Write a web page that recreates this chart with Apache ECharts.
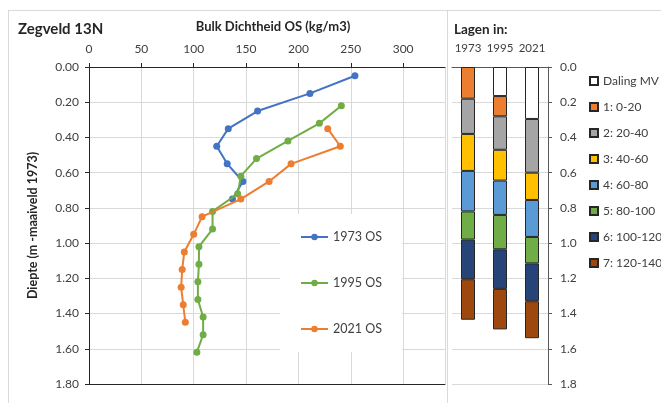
<!DOCTYPE html>
<html>
<head>
<meta charset="utf-8">
<script src="https://cdn.jsdelivr.net/npm/echarts@6/dist/echarts.min.js"></script>
<style>
html,body{margin:0;padding:0;background:#fff;}
#c{width:661px;height:403px;}
</style>
</head>
<body>
<div id="c"></div>
<script>
// ---- Data: left chart (bulk density of organic matter vs depth) ----
const depth1973 = [0.05, 0.15, 0.25, 0.35, 0.45, 0.55, 0.65, 0.75];
const os1973 = [254, 211, 161, 133, 122, 132, 147, 137];
const depth1995 = [0.22, 0.32, 0.42, 0.52, 0.62, 0.72, 0.82, 0.92, 1.02, 1.12, 1.22, 1.32, 1.42, 1.52, 1.62];
const os1995 = [241, 220, 190, 160, 145, 142, 118, 118, 105, 105, 104, 104, 109, 109, 103];
const depth2021 = [0.35, 0.45, 0.55, 0.65, 0.75, 0.85, 0.95, 1.05, 1.15, 1.25, 1.35, 1.45];
const os2021 = [228, 240, 193, 172, 145, 108, 100, 91, 89, 88, 90, 92];
const lineNames = ['1973 OS', '1995 OS', '2021 OS'];
const densityTicks = [0, 50, 100, 150, 200, 250, 300];

// ---- Data: right chart (layer thickness per year, m) ----
const years = ['1973', '1995', '2021'];
const layerNames = ['Daling MV', '1: 0-20', '2: 20-40', '3: 40-60', '4: 60-80', '5: 80-100', '6: 100-120', '7: 120-140'];
const dalingMV = [null, 0.165, 0.295];
const layer1 = [0.18, 0.115, null];
const layer2 = [0.20, 0.19, 0.305];
const layer3 = [0.21, 0.175, 0.155];
const layer4 = [0.23, 0.195, 0.21];
const layer5 = [0.16, 0.195, 0.15];
const layer6 = [0.225, 0.225, 0.215];
const layer7 = [0.23, 0.23, 0.21];

const lineColors = ['#4472C4', '#70AD47', '#ED7D31'];
const layerColors = ['#FFFFFF', '#ED7D31', '#A5A5A5', '#FFC000', '#5B9BD5', '#70AD47', '#264478', '#9E480E'];
const layerValues = [dalingMV, layer1, layer2, layer3, layer4, layer5, layer6, layer7];

const FONT = 'Lato, "Open Sans", sans-serif';
const TXT = '#404040';
const GRIDC = '#d9d9d9';

const chart = echarts.init(document.getElementById('c'), null, {renderer: 'canvas'});

const pairs = (xs, ys) => xs.map((v, i) => [v, ys[i]]);
const lineSeries = [[os1973, depth1973], [os1995, depth1995], [os2021, depth2021]].map((d, i) => ({
  name: lineNames[i],
  type: 'line',
  xAxisIndex: 0,
  yAxisIndex: 0,
  data: pairs(d[0], d[1]),
  symbol: 'circle',
  symbolSize: 7,
  color: lineColors[i],
  lineStyle: {width: 2, color: lineColors[i]},
  itemStyle: {color: lineColors[i]},
  z: 2 + i
}));

const barSeries = layerValues.map((vals, i) => ({
  name: layerNames[i],
  type: 'bar',
  stack: 'lagen',
  xAxisIndex: 2,
  yAxisIndex: 1,
  barWidth: 14,
  data: vals,
  itemStyle: {color: layerColors[i], borderColor: '#262626', borderWidth: 1}
}));

chart.setOption({
  animation: false,
  backgroundColor: '#fff',
  textStyle: {fontFamily: FONT},
  graphic: [
    {type: 'line', shape: {x1: 8, y1: 10.5, x2: 661, y2: 10.5}, style: {stroke: GRIDC, lineWidth: 1}, silent: true},
    {type: 'line', shape: {x1: 8.5, y1: 10, x2: 8.5, y2: 403}, style: {stroke: GRIDC, lineWidth: 1}, silent: true},
    {type: 'line', shape: {x1: 447.5, y1: 10, x2: 447.5, y2: 403}, style: {stroke: GRIDC, lineWidth: 1}, silent: true}
  ],
  title: [
    {text: 'Zegveld 13N', left: 13, top: 17, textStyle: {fontFamily: FONT, fontSize: 15, fontWeight: 'bold', color: '#262626'}},
    {text: 'Lagen in:', left: 449, top: 18, textStyle: {fontFamily: FONT, fontSize: 13.5, fontWeight: 'bold', color: '#262626'}}
  ],
  legend: [
    {
      data: lineNames,
      orient: 'vertical',
      left: 280,
      top: 214,
      padding: [16, 20, 16, 20],
      backgroundColor: '#fff',
      itemWidth: 27,
      itemHeight: 8,
      itemGap: 32,
      textStyle: {fontFamily: FONT, fontSize: 12.5, color: TXT, lineHeight: 14}
    },
    {
      data: layerNames,
      orient: 'vertical',
      left: 585,
      top: 72,
      padding: [2, 0, 2, 4],
      icon: 'rect',
      itemWidth: 8,
      itemHeight: 8,
      itemGap: 12,
      textStyle: {fontFamily: FONT, fontSize: 12, color: TXT, lineHeight: 14}
    }
  ],
  grid: [
    {left: 89, top: 67, width: 356, height: 317},
    {left: 452, top: 67, width: 96, height: 317}
  ],
  xAxis: [
    {
      type: 'value', gridIndex: 0, position: 'top', min: 0, max: 340, interval: 50,
      name: 'Bulk Dichtheid OS (kg/m3)', nameLocation: 'middle', nameGap: 34,
      nameTextStyle: {fontFamily: FONT, fontSize: 13, fontWeight: 'bold', color: '#262626', padding: [0, 0, 0, 12]},
      axisLine: {show: true, lineStyle: {color: '#262626', width: 1}},
      axisTick: {show: true, length: 4, lineStyle: {color: '#262626'}},
      axisLabel: {fontFamily: FONT, fontSize: 12, color: TXT, margin: 12, showMaxLabel: false,
        formatter: v => densityTicks.indexOf(v) >= 0 ? String(v) : ''},
      splitLine: {show: true, lineStyle: {color: GRIDC, width: 1}}
    },
    {
      type: 'value', gridIndex: 0, position: 'bottom', min: 0, max: 340,
      axisLine: {show: true, lineStyle: {color: '#262626', width: 1}},
      axisTick: {show: false}, axisLabel: {show: false}, splitLine: {show: false}
    },
    {
      type: 'category', gridIndex: 1, position: 'top', data: years,
      axisLine: {show: true, lineStyle: {color: '#595959', width: 1}},
      axisTick: {show: false},
      axisLabel: {fontFamily: FONT, fontSize: 11.5, color: TXT, margin: 13, interval: 0, hideOverlap: false},
      splitLine: {show: false}
    }
  ],
  yAxis: [
    {
      type: 'value', gridIndex: 0, inverse: true, min: 0, max: 1.8, interval: 0.2,
      name: 'Diepte (m -maaiveld 1973)', nameLocation: 'middle', nameGap: 50,
      nameTextStyle: {fontFamily: FONT, fontSize: 12.5, fontWeight: 'bold', color: '#262626'},
      axisLine: {show: true, lineStyle: {color: '#262626', width: 1}},
      axisTick: {show: true, length: 4, lineStyle: {color: '#262626'}},
      axisLabel: {fontFamily: FONT, fontSize: 12, color: TXT, margin: 10, formatter: v => v.toFixed(2)},
      splitLine: {show: true, lineStyle: {color: GRIDC, width: 1}}
    },
    {
      type: 'value', gridIndex: 1, position: 'right', inverse: true, min: 0, max: 1.8, interval: 0.2,
      axisLine: {show: true, lineStyle: {color: '#595959', width: 1}},
      axisTick: {show: true, length: 4, lineStyle: {color: '#595959'}},
      axisLabel: {fontFamily: FONT, fontSize: 12, color: TXT, margin: 12, formatter: v => v.toFixed(1)},
      splitLine: {show: true, lineStyle: {color: GRIDC, width: 1}}
    }
  ],
  series: lineSeries.concat(barSeries)
});
</script>
</body>
</html>
